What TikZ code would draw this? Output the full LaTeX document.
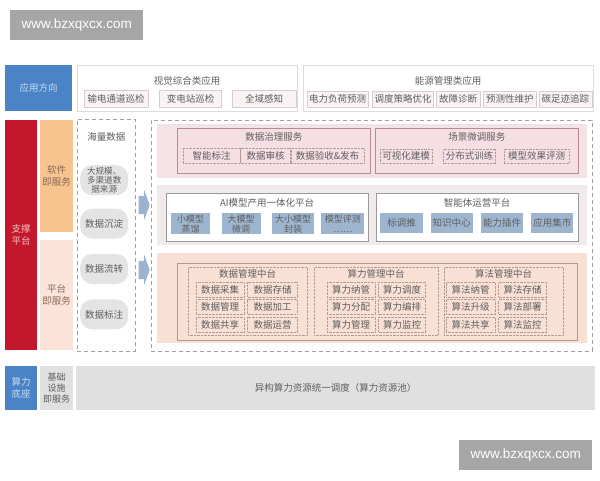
\documentclass[tikz,border=0pt]{standalone}
\usepackage{fontspec}
\setmainfont{Noto Sans CJK SC}
\newfontfamily\wmfont{Liberation Sans}
\usetikzlibrary{positioning, shapes.arrows}

\definecolor{appblue}{HTML}{4A83C6}
\definecolor{apptext}{HTML}{C9DCF2}
\definecolor{supred}{HTML}{C3172B}
\definecolor{suptext}{HTML}{F6C3C9}
\definecolor{saasorange}{HTML}{F7C38E}
\definecolor{paaspeach}{HTML}{FBE3D9}
\definecolor{orangetext}{HTML}{8A6A55}
\definecolor{txtgray}{HTML}{5E5E5E}
\definecolor{panelline}{HTML}{DCDCDC}
\definecolor{tabline}{HTML}{D6CECE}
\definecolor{tabfill}{HTML}{F9F3F3}
\definecolor{dashgray}{HTML}{A0A0A0}
\definecolor{pillgray}{HTML}{E4E4E4}
\definecolor{band1}{HTML}{F4E2E6}
\definecolor{govfill}{HTML}{F6DFE4}
\definecolor{govline}{HTML}{B88A93}
\definecolor{band2}{HTML}{F1EAEB}
\definecolor{boxline}{HTML}{9A9A9A}
\definecolor{boxblue}{HTML}{9EB5CF}
\definecolor{band3}{HTML}{F9E0D4}
\definecolor{platline}{HTML}{B8988C}
\definecolor{cellline}{HTML}{B49A90}
\definecolor{arrowblue}{HTML}{9BB3D0}
\definecolor{basegray}{HTML}{E0E0E0}
\definecolor{wmgray}{HTML}{A6A6A6}

\begin{document}
\begin{tikzpicture}[x=1pt, y=-1pt, inner sep=0pt,
    font=\fontsize{9.5}{11}\selectfont, text=txtgray,
    blk/.style={anchor=north west, align=center},
    wmark/.style={blk, fill=wmgray, text=white, minimum width=133pt, minimum height=30pt,
      font=\wmfont\fontsize{13.5}{15}\selectfont},
    side/.style={blk, minimum width=33pt, font=\fontsize{9.5}{12}\selectfont},
    panel/.style={blk, draw=panelline, fill=white, minimum height=46pt},
    tab/.style={blk, draw=tabline, fill=tabfill, minimum height=17pt},
    pill/.style={blk, fill=pillgray, rounded corners=12pt, minimum width=48pt, minimum height=30pt},
    dashbox/.style={blk, draw=dashgray, dash pattern=on 4pt off 3pt, line width=0.8pt},
    band/.style={blk, minimum width=430pt},
    svc/.style={blk, draw=govline, fill=govfill, line width=0.7pt, minimum height=45pt},
    dotcell/.style={blk, draw=cellline, densely dotted, minimum height=15pt},
    bluecell/.style={blk, fill=boxblue, minimum height=21pt},
    twoline/.style={font=\fontsize{9}{10}\selectfont},
    flow/.style={single arrow, fill=arrowblue, minimum height=11pt, inner xsep=0pt, inner ysep=9pt,
      single arrow head extend=6pt, single arrow tip angle=140}
  ]
  \useasboundingbox[fill=white] (0,0) rectangle (600,480);

  \node[wmark] (wmtop) at (10,10) {www.bzxqxcx.com};

  % application layer
  \node[side, fill=appblue, text=apptext, minimum width=67pt, minimum height=46pt] (appdir) at (5,65) {应用方向};
  \node[panel, minimum width=220pt] (vis) at (77,65) {};
  \node[below=11pt of vis.north] (vistitle) {视觉综合类应用};
  \node[tab, minimum width=64pt] (vis1) at (84,90) {输电通道巡检};
  \node[tab, minimum width=62pt, right=11pt of vis1] (vis2) {变电站巡检};
  \node[tab, minimum width=64pt, right=10pt of vis2] (vis3) {全域感知};

  \node[panel, minimum width=290pt] (eng) at (303,65) {};
  \node[below=11pt of eng.north] (engtitle) {能源管理类应用};
  \node[tab, minimum width=61pt, minimum height=16pt] (eng1) at (307,91) {电力负荷预测};
  \node[tab, minimum width=61pt, minimum height=16pt, right=4pt of eng1] (eng2) {调度策略优化};
  \node[tab, minimum width=44pt, minimum height=16pt, right=2pt of eng2] (eng3) {故障诊断};
  \node[tab, minimum width=53pt, minimum height=16pt, right=3pt of eng3] (eng4) {预测性维护};
  \node[tab, minimum width=53pt, minimum height=16pt, right=2pt of eng4] (eng5) {碳足迹追踪};

  % support platform
  \node[side, fill=supred, text=suptext, minimum width=32pt, minimum height=230pt] (support) at (5,120) {支撑\\平台};
  \node[side, fill=saasorange, text=orangetext, minimum height=112pt] (saas) at (40,120) {软件\\即服务};
  \node[side, fill=paaspeach, text=orangetext, minimum height=110pt] (paas) at (40,240) {平台\\即服务};

  \node[dashbox, minimum width=58pt, minimum height=232pt] (massdata) at (77,119) {};
  \node[below=13pt of massdata.north] (masstitle) {海量数据};
  \node[pill, font=\fontsize{8.6}{9.4}\selectfont] (source) at (80,165) {大规模、\\多渠道数\\据来源};
  \node[pill, below=13pt of source] (settle) {数据沉淀};
  \node[pill, below=15pt of settle] (transfer) {数据流转};
  \node[pill, below=15pt of transfer] (tagging) {数据标注};

  \node[flow] (flowA) at (142.5,205) {};
  \node[flow] (flowB) at (142.5,270) {};

  \node[dashbox, minimum width=441pt, minimum height=231pt] (core) at (151,120) {};

  % data governance / fine tuning
  \node[band, fill=band1, minimum height=54pt] (govband) at (157,124) {};
  \node[svc, minimum width=193pt] (gov) at (177,128) {};
  \node[below=4pt of gov.north] (govtitle) {数据治理服务};
  \node[dotcell, minimum width=57pt] (gov1) at (183,148) {智能标注};
  \node[dotcell, minimum width=50pt, right=0pt of gov1] (gov2) {数据审核};
  \node[dotcell, minimum width=73pt, right=0pt of gov2] (gov3) {数据验收\&发布};

  \node[svc, minimum width=203pt] (scene) at (375,128) {};
  \node[below=4pt of scene.north] (scenetitle) {场景微调服务};
  \node[dotcell, minimum width=52pt, minimum height=14pt] (scene1) at (380,149) {可视化建模};
  \node[dotcell, minimum width=52pt, minimum height=14pt, right=11pt of scene1] (scene2) {分布式训练};
  \node[dotcell, minimum width=65pt, minimum height=14pt, right=8pt of scene2] (scene3) {模型效果评测};

  % model and agent platforms
  \node[band, fill=band2, minimum height=60pt] (aiband) at (157,185) {};
  \node[blk, draw=boxline, fill=white, minimum width=202pt, minimum height=48pt] (ai) at (166,193) {};
  \node[below=5pt of ai.north] (aititle) {AI模型产用一体化平台};
  \node[bluecell, twoline, minimum width=39pt] (ai1) at (171,213) {小模型\\蒸馏};
  \node[bluecell, twoline, minimum width=39pt, right=11pt of ai1] (ai2) {大模型\\微调};
  \node[bluecell, twoline, minimum width=42pt, right=11pt of ai2] (ai3) {大小模型\\封装};
  \node[bluecell, twoline, minimum width=43pt, right=7pt of ai3] (ai4) {模型评测\\……};

  \node[blk, draw=boxline, fill=white, minimum width=202pt, minimum height=48pt] (agent) at (376,193) {};
  \node[below=5pt of agent.north] (agenttitle) {智能体运营平台};
  \node[bluecell, minimum width=43pt, minimum height=20pt] (agent1) at (380,213) {标调推};
  \node[bluecell, minimum width=42pt, minimum height=20pt, right=7pt of agent1] (agent2) {知识中心};
  \node[bluecell, minimum width=42pt, minimum height=20pt, right=8pt of agent2] (agent3) {能力插件};
  \node[bluecell, minimum width=42pt, minimum height=20pt, right=8pt of agent3] (agent4) {应用集市};

  % middle platforms
  \node[band, fill=band3, minimum height=90pt] (platband) at (157,253) {};
  \node[blk, draw=platline, line width=0.7pt, minimum width=400pt, minimum height=77pt] (plat) at (177,263) {};

  \node[blk, draw=cellline, densely dotted, minimum width=119pt, minimum height=68pt] (datamid) at (188,267) {};
  \node[below=2pt of datamid.north] (datatitle) {数据管理中台};
  \node[dotcell, minimum width=48pt] (data11) at (196,282) {数据采集};
  \node[dotcell, minimum width=50pt, right=3pt of data11] (data12) {数据存储};
  \node[dotcell, minimum width=48pt, below=2pt of data11] (data21) {数据管理};
  \node[dotcell, minimum width=50pt, below=2pt of data12] (data22) {数据加工};
  \node[dotcell, minimum width=48pt, below=2pt of data21] (data31) {数据共享};
  \node[dotcell, minimum width=50pt, below=2pt of data22] (data32) {数据运营};

  \node[blk, draw=cellline, densely dotted, minimum width=124pt, minimum height=68pt] (compmid) at (314,267) {};
  \node[below=2pt of compmid.north] (comptitle) {算力管理中台};
  \node[dotcell, minimum width=48pt] (comp11) at (327,282) {算力纳管};
  \node[dotcell, minimum width=47pt, right=3pt of comp11] (comp12) {算力调度};
  \node[dotcell, minimum width=48pt, below=2pt of comp11] (comp21) {算力分配};
  \node[dotcell, minimum width=47pt, below=2pt of comp12] (comp22) {算力编排};
  \node[dotcell, minimum width=48pt, below=2pt of comp21] (comp31) {算力管理};
  \node[dotcell, minimum width=47pt, below=2pt of comp22] (comp32) {算力监控};

  \node[blk, draw=cellline, densely dotted, minimum width=119pt, minimum height=68pt] (algmid) at (444,267) {};
  \node[below=2pt of algmid.north] (algtitle) {算法管理中台};
  \node[dotcell, minimum width=49pt] (alg11) at (446,282) {算法纳管};
  \node[dotcell, minimum width=48pt, right=3pt of alg11] (alg12) {算法存储};
  \node[dotcell, minimum width=49pt, below=2pt of alg11] (alg21) {算法升级};
  \node[dotcell, minimum width=48pt, below=2pt of alg12] (alg22) {算法部署};
  \node[dotcell, minimum width=49pt, below=2pt of alg21] (alg31) {算法共享};
  \node[dotcell, minimum width=48pt, below=2pt of alg22] (alg32) {算法监控};

  % compute base
  \node[side, fill=appblue, text=apptext, minimum width=32pt, minimum height=44pt] (base) at (5,366) {算力\\底座};
  \node[side, fill=basegray, minimum height=44pt, font=\fontsize{9}{11}\selectfont] (iaas) at (40,366) {基础\\设施\\即服务};
  \node[blk, fill=basegray, minimum width=519pt, minimum height=44pt] (respool) at (76,366) {异构算力资源统一调度（算力资源池）};

  \node[wmark] (wmbot) at (459,440) {www.bzxqxcx.com};
\end{tikzpicture}
\end{document}
